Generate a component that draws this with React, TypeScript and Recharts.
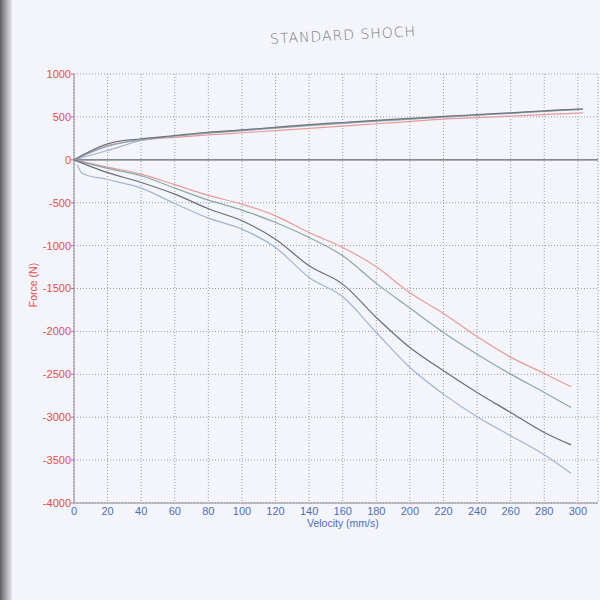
import React from "react";
import {
  CartesianGrid,
  Line,
  LineChart,
  ReferenceLine,
  XAxis,
  YAxis,
} from "recharts";

// velocity samples (mm/s)
const velComp = [0, 20, 40, 60, 80, 100, 120, 140, 160, 180, 200, 220, 240, 260, 280, 300, 303];
const velReb = [0, 20, 40, 60, 80, 100, 120, 140, 160, 180, 200, 220, 240, 260, 280, 296];
const velRebLow = [2, 5, 20, 40, 60, 80, 100, 120, 140, 160, 180, 200, 220, 240, 260, 280, 296];

// compression side (N)
const darkComp = [0, 186, 245, 283, 321, 348, 379, 410, 435, 460, 482, 505, 527, 548, 570, 590, 592];
const tealComp = [0, 160, 235, 275, 312, 340, 370, 398, 425, 450, 473, 497, 520, 542, 565, 585, 588];
const blueComp = [0, 108, 225, 280, 318, 346, 377, 405, 430, 455, 478, 500, 522, 545, 568, 588, 590];
const redComp = [0, 165, 228, 262, 290, 315, 340, 366, 393, 420, 447, 474, 492, 510, 527, 545, 548];

// rebound side (N)
const redReb = [0, -85, -167, -290, -415, -517, -653, -847, -1022, -1247, -1550, -1790, -2060, -2300, -2490, -2646];
const tealReb = [0, -100, -186, -330, -470, -586, -731, -906, -1119, -1440, -1728, -2013, -2265, -2498, -2712, -2887];
const darkReb = [0, -150, -264, -400, -570, -711, -925, -1235, -1449, -1838, -2188, -2459, -2712, -2945, -3178, -3322];
const blueReb = [-60, -160, -230, -330, -510, -680, -808, -1022, -1372, -1597, -2013, -2421, -2731, -2995, -3217, -3438, -3656];

const xTicks = [0, 20, 40, 60, 80, 100, 120, 140, 160, 180, 200, 220, 240, 260, 280, 300];
const yTicks = [-4000, -3500, -3000, -2500, -2000, -1500, -1000, -500, 0, 500, 1000];

const zip = (xs: number[], ys: number[]) => xs.map((v, i) => ({ v, f: ys[i] }));

const series = [
  { key: "redComp", data: zip(velComp, redComp), color: "#e89a9a" },
  { key: "blueComp", data: zip(velComp, blueComp), color: "#9fb4d4" },
  { key: "tealComp", data: zip(velComp, tealComp), color: "#8aa8a8" },
  { key: "darkComp", data: zip(velComp, darkComp), color: "#74747f" },
  { key: "redReb", data: zip(velReb, redReb), color: "#e89a9a" },
  { key: "tealReb", data: zip(velReb, tealReb), color: "#8aa8a8" },
  { key: "darkReb", data: zip(velReb, darkReb), color: "#6c6c7a" },
  { key: "blueReb", data: zip(velRebLow, blueReb), color: "#9fb4d4" },
];

const font = "'Liberation Sans', Arial, sans-serif";

export default function App() {
  return (
    <div
      style={{
        position: "absolute",
        left: 0,
        top: 0,
        width: 600,
        height: 600,
        background: "#f4f5fa",
        overflow: "hidden",
        fontFamily: font,
      }}
    >
      <div
        style={{
          position: "absolute",
          left: 0,
          top: 0,
          width: 12,
          height: 600,
          background: "linear-gradient(to right, #5c5c60, #9a9aa0 40%, #e6e7ec)",
        }}
      />
      <div
        style={{
          position: "absolute",
          left: 270,
          top: 27,
          transform: "rotate(-3deg)",
          fontFamily: "'DejaVu Sans', sans-serif",
          fontSize: 14,
          letterSpacing: 1,
          color: "#7a7a80",
          fontWeight: 300,
        }}
      >
        STANDARD SHOCH
      </div>
      <LineChart
        width={600}
        height={600}
        margin={{ top: 74, right: 2, bottom: 67, left: 34 }}
        style={{ position: "absolute", left: 0, top: 0 }}
      >
        <CartesianGrid stroke="#9a9aa8" strokeDasharray="1 2" />
        <XAxis
          type="number"
          dataKey="v"
          domain={[0, 312]}
          ticks={xTicks}
          allowDuplicatedCategory={false}
          height={30}
          tick={{ fill: "#4f6cc0", fontSize: 11, fontFamily: font }}
          tickLine={false}
          tickSize={0}
          axisLine={{ stroke: "#8a8a90" }}
          tickMargin={4}
        />
        <YAxis
          type="number"
          dataKey="f"
          domain={[-4000, 1000]}
          ticks={yTicks}
          width={40}
          tick={{ fill: "#e05050", fontSize: 11, fontFamily: font }}
          tickSize={3}
          tickLine={{ stroke: "#8a8a90" }}
          axisLine={{ stroke: "#8a8a90" }}
          tickMargin={0}
        />
        <ReferenceLine y={0} stroke="#6a6a70" strokeWidth={1.2} />
        {series.map((s) => (
          <Line
            key={s.key}
            data={s.data}
            dataKey="f"
            type="monotone"
            stroke={s.color}
            strokeWidth={1.2}
            dot={false}
            isAnimationActive={false}
          />
        ))}
      </LineChart>
      <div
        style={{
          position: "absolute",
          left: 307,
          top: 517,
          fontSize: 10.5,
          color: "#4f6cc0",
          whiteSpace: "nowrap",
        }}
      >
        Velocity (mm/s)
      </div>
      <div
        style={{
          position: "absolute",
          left: 33,
          top: 285,
          fontSize: 10.5,
          color: "#e05050",
          transform: "translate(-50%, -50%) rotate(-90deg)",
          whiteSpace: "nowrap",
        }}
      >
        Force (N)
      </div>
    </div>
  );
}
